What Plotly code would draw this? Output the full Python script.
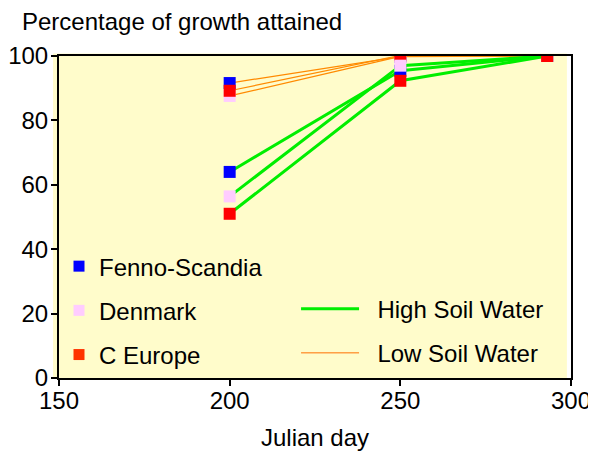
import plotly.graph_objects as go

days = [200, 250, 293]
regions = ["Fenno-Scandia", "Denmark", "C Europe"]
high_water = {
    "Fenno-Scandia": [64.0, 95.4, 100],
    "Denmark": [56.4, 97.0, 100],
    "C Europe": [51.0, 92.3, 100],
}
low_water = {
    "Fenno-Scandia": [91.6, 99.8, 100],
    "Denmark": [87.6, 99.9, 100],
    "C Europe": [89.2, 100.2, 100],
}
region_colors = {"Fenno-Scandia": "#0000FF", "Denmark": "#FFCCFF", "C Europe": "#FF0000"}
legend_region_colors = {"Fenno-Scandia": "#0000FF", "Denmark": "#FFCCFF", "C Europe": "#FF3300"}
green = "#00EE00"
orange = "#FF8A00"

x_ticks = [150, 200, 250, 300]
y_ticks = [0, 20, 40, 60, 80, 100]

FONT = "Liberation Sans, Arial, sans-serif"
NBSP = "\u00a0\u00a0"

W, H = 588, 444

fig = go.Figure()

# low soil water traces
for r in regions:
    fig.add_trace(go.Scatter(
        x=days, y=low_water[r], mode="lines+markers",
        line=dict(color=orange, width=1.2),
        marker=dict(symbol="square", size=12, color=region_colors[r]),
        showlegend=False, hoverinfo="skip"))
# high soil water traces
for r in regions:
    fig.add_trace(go.Scatter(
        x=days, y=high_water[r], mode="lines+markers",
        line=dict(color=green, width=3),
        marker=dict(symbol="square", size=12, color=region_colors[r]),
        showlegend=False, hoverinfo="skip"))

# legend entries
for i, r in enumerate(regions):
    fig.add_trace(go.Scatter(
        x=[None], y=[None], mode="markers", name=r,
        marker=dict(symbol="square", size=11, color=legend_region_colors[r]),
        legend="legend", legendgroup="g%d" % i))
fig.add_trace(go.Scatter(x=[None], y=[None], mode="lines", name=NBSP + "High Soil Water",
                         line=dict(color=green, width=3), legend="legend2", legendgroup="h1"))
fig.add_trace(go.Scatter(x=[None], y=[None], mode="lines", name=NBSP + "Low Soil Water",
                         line=dict(color="#FF7000", width=1), legend="legend2", legendgroup="h2"))

fig.add_shape(type="rect", xref="paper", yref="paper",
              x0=-0.0117, x1=0.992, y0=0, y1=1.008,
              fillcolor="#FFFCCB", line=dict(width=0), layer="below")

axis_common = dict(
    showgrid=False, zeroline=False, showline=True, linecolor="black", linewidth=2,
    mirror=True, ticks="outside", ticklen=6, tickwidth=1.5, tickcolor="black",
    tickfont=dict(family=FONT, size=24, color="black"), automargin=False,
)

fig.update_layout(
    width=W, height=H,
    margin=dict(l=51, r=25, t=48, b=74, autoexpand=False),
    paper_bgcolor="white", plot_bgcolor="white",
    font=dict(family=FONT, color="black"),
    title=dict(text="Percentage of growth attained", x=14 / W, xanchor="left",
               xref="container", y=1 - 14 / H, yanchor="middle",
               font=dict(family=FONT, size=24, color="black"), automargin=False),
    xaxis=dict(range=[150, 300], tickvals=x_ticks, ticktext=[str(v) for v in x_ticks],
               ticklabelstandoff=-6,
               title=dict(text="Julian day", font=dict(family=FONT, size=24), standoff=16),
               **axis_common),
    yaxis=dict(range=[0, 100], tickvals=y_ticks, ticktext=[str(v) for v in y_ticks],
               ticklabelstandoff=-2, **axis_common),
    legend=dict(x=0.0, y=0.416, xanchor="left", yanchor="top", bgcolor="rgba(0,0,0,0)",
                font=dict(family=FONT, size=24), tracegroupgap=10, itemwidth=30),
    legend2=dict(x=0.463, y=0.284, xanchor="left", yanchor="top", bgcolor="rgba(0,0,0,0)",
                 font=dict(family=FONT, size=24), tracegroupgap=10, itemwidth=58),
)

fig.write_html("out.html")
